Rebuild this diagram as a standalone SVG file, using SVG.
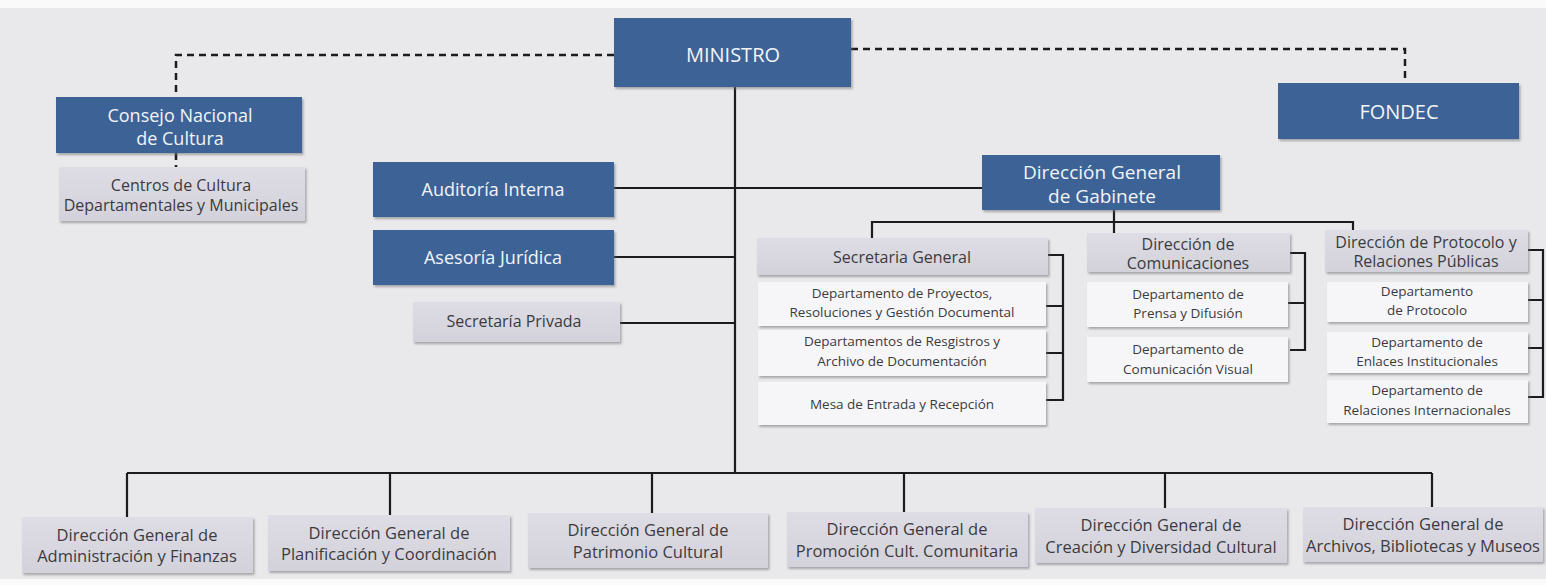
<svg xmlns="http://www.w3.org/2000/svg" width="1546" height="585" viewBox="0 0 1546 585">
<defs>
<filter id="sh" x="-5%" y="-10%" width="110%" height="130%"><feDropShadow dx="1.5" dy="2" stdDeviation="0.8" flood-color="#6e6e74" flood-opacity="0.55"/></filter>
<linearGradient id="gh" x1="0" y1="0" x2="0" y2="1"><stop offset="0" stop-color="#dedde6"/><stop offset="1" stop-color="#d3d2db"/></linearGradient>
</defs>
<style>
.blue{fill:#3e6496;filter:url(#sh)}
.grey{fill:url(#gh);filter:url(#sh)}
.dept{fill:#f6f6f8;filter:url(#sh)}
text{font-family:"Open Sans","Noto Sans","Liberation Sans",sans-serif;text-anchor:middle}
.tb{fill:#f2f4f8;font-size:18px}
.tt{fill:#f2f4f8;font-size:20px}
.tg{fill:#3b3b3f;font-size:16px}
.td{fill:#3b3b3f;font-size:13.5px}
.tbot{fill:#3b3b3f;font-size:16.5px}
.ln{stroke:#1c1c1c;stroke-width:2.2;fill:none}
.dash{stroke:#1c1c1c;stroke-width:2.5;fill:none;stroke-dasharray:7 5}
</style>
<rect x="0" y="0" width="1546" height="585" fill="#e9e9eb"/>
<rect x="0" y="0" width="1546" height="8" fill="#fafafa"/>
<rect x="0" y="579" width="1546" height="6" fill="#fafafa"/>

<g id="connectors">
<path class="dash" d="M614,55 H176 V97"/>
<path class="dash" d="M176,153 V167"/>
<path class="dash" d="M851,49 H1405 V83"/>
<path class="ln" d="M735,87 V473"/>
<path class="ln" d="M614,188 H982"/>
<path class="ln" d="M614,257 H735"/>
<path class="ln" d="M620,323 H735"/>
<path class="ln" d="M127,473 H1432"/>
<path class="ln" d="M127,473 V517 M390,473 V515 M652,473 V513 M904,473 V512 M1165,473 V508 M1432,473 V507"/>
<path class="ln" d="M1114,210 V233"/>
<path class="ln" d="M872,238 V222 H1353 V230"/>
<path class="ln" d="M1048,255 H1063 V400 H1046 M1046,306 H1063 M1046,353 H1063"/>
<path class="ln" d="M1290,253 H1305 V350 H1290 M1288,303 H1305"/>
<path class="ln" d="M1528,250 H1543 V397 H1528 M1528,300 H1543 M1528,348 H1543"/>
</g>

<g id="ministro"><rect class="blue" x="614" y="18" width="237" height="69"/><text class="tt" x="733" y="62">MINISTRO</text></g>
<g id="consejo"><rect class="blue" x="56" y="97" width="246" height="56"/><text class="tb" x="180" y="122">Consejo Nacional</text><text class="tb" x="180" y="145">de Cultura</text></g>
<g id="centros"><rect class="grey" x="59" y="167" width="246" height="54"/><text class="tg" x="181" y="191">Centros de Cultura</text><text class="tg" x="181" y="211">Departamentales y Municipales</text></g>
<g id="fondec"><rect class="blue" x="1278" y="83" width="241" height="56"/><text class="tt" x="1399" y="119">FONDEC</text></g>
<g id="auditoria"><rect class="blue" x="373" y="162" width="241" height="55"/><text class="tb" x="493" y="196">Auditoría Interna</text></g>
<g id="asesoria"><rect class="blue" x="373" y="230" width="241" height="55"/><text class="tb" x="493" y="264">Asesoría Jurídica</text></g>
<g id="secretaria-privada"><rect class="grey" x="413" y="302" width="207" height="40"/><text class="tg" x="514" y="327">Secretaría Privada</text></g>
<g id="gabinete"><rect class="blue" x="982" y="155" width="238" height="55"/><text class="tb" x="1102" y="179" style="font-size:19px">Dirección General</text><text class="tb" x="1102" y="203" style="font-size:19px">de Gabinete</text></g>

<g id="secretaria-general"><rect class="grey" x="757" y="238" width="291" height="37"/><text class="tg" x="902" y="263">Secretaria General</text></g>
<g id="dep-proyectos"><rect class="dept" x="758" y="282" width="288" height="44"/><text class="td" x="902" y="298">Departamento de Proyectos,</text><text class="td" x="902" y="317">Resoluciones y Gestión Documental</text></g>
<g id="dep-registros"><rect class="dept" x="758" y="330" width="288" height="46"/><text class="td" x="902" y="346">Departamentos de Resgistros y</text><text class="td" x="902" y="366">Archivo de Documentación</text></g>
<g id="mesa-entrada"><rect class="dept" x="758" y="382" width="288" height="43"/><text class="td" x="902" y="409">Mesa de Entrada y Recepción</text></g>

<g id="comunicaciones"><rect class="grey" x="1087" y="233" width="203" height="39"/><text class="tg" x="1188" y="250">Dirección de</text><text class="tg" x="1188" y="269">Comunicaciones</text></g>
<g id="dep-prensa"><rect class="dept" x="1087" y="282" width="201" height="45"/><text class="td" x="1188" y="299">Departamento de</text><text class="td" x="1188" y="318">Prensa y Difusión</text></g>
<g id="dep-visual"><rect class="dept" x="1087" y="337" width="201" height="45"/><text class="td" x="1188" y="354">Departamento de</text><text class="td" x="1188" y="374">Comunicación Visual</text></g>

<g id="protocolo"><rect class="grey" x="1325" y="230" width="203" height="42"/><text class="tg" x="1426" y="248">Dirección de Protocolo y</text><text class="tg" x="1426" y="267">Relaciones Públicas</text></g>
<g id="dep-protocolo"><rect class="dept" x="1327" y="282" width="201" height="40"/><text class="td" x="1427" y="296">Departamento</text><text class="td" x="1427" y="315">de Protocolo</text></g>
<g id="dep-enlaces"><rect class="dept" x="1327" y="332" width="201" height="41"/><text class="td" x="1427" y="347">Departamento de</text><text class="td" x="1427" y="366">Enlaces Institucionales</text></g>
<g id="dep-relaciones"><rect class="dept" x="1327" y="380" width="201" height="43"/><text class="td" x="1427" y="395">Departamento de</text><text class="td" x="1427" y="415">Relaciones Internacionales</text></g>

<g id="dg-administracion"><rect class="grey" x="22" y="517" width="231" height="56"/><text class="tbot" x="137" y="541">Dirección General de</text><text class="tbot" x="137" y="562">Administración y Finanzas</text></g>
<g id="dg-planificacion"><rect class="grey" x="268" y="515" width="242" height="56"/><text class="tbot" x="389" y="539">Dirección General de</text><text class="tbot" x="389" y="560">Planificación y Coordinación</text></g>
<g id="dg-patrimonio"><rect class="grey" x="528" y="513" width="240" height="55"/><text class="tbot" x="648" y="536">Dirección General de</text><text class="tbot" x="648" y="558">Patrimonio Cultural</text></g>
<g id="dg-promocion"><rect class="grey" x="787" y="512" width="241" height="55"/><text class="tbot" x="907" y="535">Dirección General de</text><text class="tbot" x="907" y="557">Promoción Cult. Comunitaria</text></g>
<g id="dg-creacion"><rect class="grey" x="1035" y="508" width="252" height="55"/><text class="tbot" x="1161" y="531">Dirección General de</text><text class="tbot" x="1161" y="553">Creación y Diversidad Cultural</text></g>
<g id="dg-archivos"><rect class="grey" x="1303" y="507" width="240" height="55"/><text class="tbot" x="1423" y="530">Dirección General de</text><text class="tbot" x="1423" y="552">Archivos, Bibliotecas y Museos</text></g>
</svg>
